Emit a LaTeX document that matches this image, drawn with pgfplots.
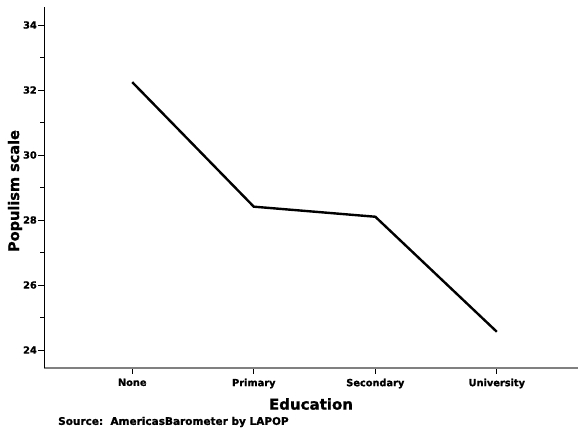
\documentclass[border=0pt]{standalone}
\usepackage{pgfplots}
\pgfplotsset{compat=1.18}
\usepackage{fontspec}
\setmainfont{DejaVu Sans}[BoldFeatures={FakeBold=1.2}]
\begin{document}
\begin{tikzpicture}[x=1pt,y=1pt]
\useasboundingbox (0,0) rectangle (578,429);
\begin{axis}[
  at={(44.3pt,61.3pt)}, anchor=south west,
  scale only axis, width=533.7pt, height=360.7pt,
  xmin=-0.724, xmax=3.668, ymin=23.455, ymax=34.554,
  axis x line=bottom, axis y line=left,
  x axis line style={-, black!50, line width=1.6pt},
  y axis line style={-, black, line width=1.2pt},
  xtick={0,1,2,3},
  xticklabels={None,Primary,Secondary,University},
  ytick={24,26,28,30,32,34},
  minor ytick={25,27,29,31,33},
  tick align=outside,
  major tick length=6pt, minor tick length=4pt,
  every tick/.style={black, line width=0.9pt},
  tick label style={font=\fontsize{9.8}{11}\selectfont\bfseries},
  xticklabel style={yshift=-1.5pt},
  yticklabel style={xshift=2pt},
  /pgf/number format/assume math mode=true,
  clip=false,
]
\addplot[black, line width=2.4pt, line join=miter] coordinates {
  (0,32.24) (1,28.41) (2,28.10) (3,24.56)
};
\end{axis}
\node[font=\fontsize{15}{17}\selectfont\bfseries] at (311,25) {Education};
\node[font=\fontsize{14.5}{16}\selectfont\bfseries, rotate=90] at (15,238) {Populism scale};
\node[font=\fontsize{10.5}{12}\selectfont\bfseries, anchor=west, inner sep=0pt] at (58,7) {Source:\ \ AmericasBarometer by LAPOP};
\end{tikzpicture}
\end{document}
